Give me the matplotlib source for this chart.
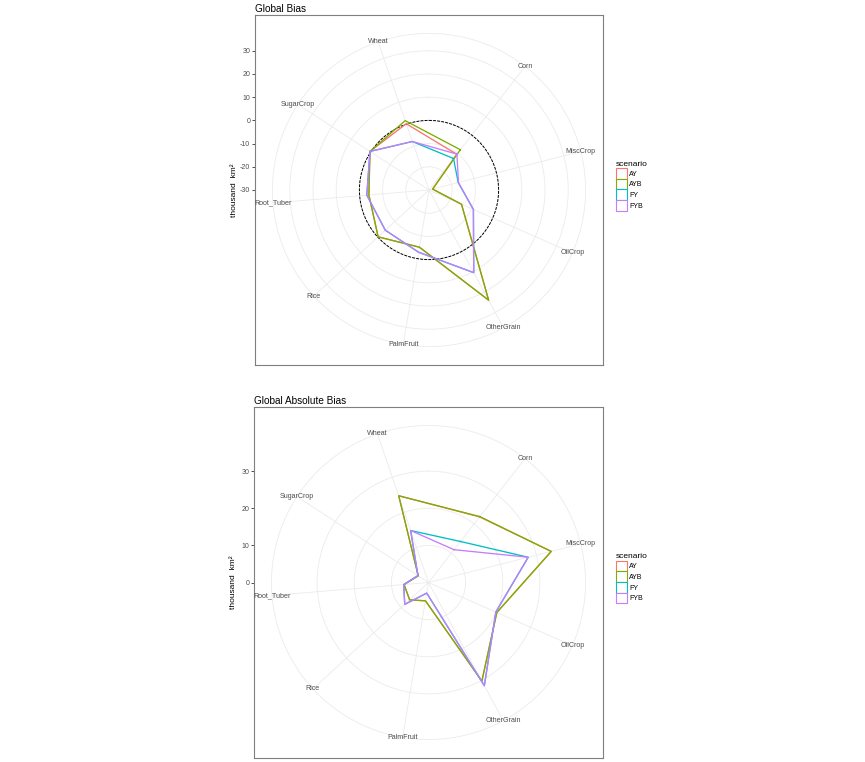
import numpy as np
import matplotlib
matplotlib.use("Agg")
import matplotlib.pyplot as plt
from matplotlib.patches import Patch

plt.rcParams['font.family'] = ['Liberation Sans', 'DejaVu Sans']
plt.rcParams['axes.unicode_minus'] = False

# cultivos en el orden del eje theta
crops = ["Corn", "MiscCrop", "OilCrop", "OtherGrain", "PalmFruit",
         "Rice", "Root_Tuber", "SugarCrop", "Wheat"]
scenarios = ["AY", "AYB", "FY", "FYB"]
colores = ["#F8766D", "#7CAE00", "#00BFC4", "#C77CFF"]

# Global Bias (thousand km2)
bias_AY = [-10.5, -28.4, -14.7, 24.0, -5.0, -0.2, -4.0, 0.4, 0.2]
bias_AYB = [-8.0, -28.4, -14.7, 24.0, -5.0, -0.2, -4.0, 0.4, 1.6]
bias_FY = [-12.8, -17.0, -9.1, 10.5, -2.8, -4.4, -3.1, 0.4, -7.9]
bias_FYB = [-10.4, -16.9, -9.1, 10.5, -2.8, -4.4, -3.1, 0.4, -7.9]

# Global Absolute Bias (thousand km2)
abs_AY = [22.4, 34.1, 20.1, 30.2, 5.0, 6.9, 6.6, 3.3, 24.7]
abs_AYB = [22.5, 34.1, 20.1, 30.2, 5.0, 6.9, 6.6, 3.3, 24.7]
abs_FY = [14.0, 27.7, 19.8, 31.6, 2.9, 8.7, 6.7, 3.4, 14.8]
abs_FYB = [11.2, 27.7, 19.8, 31.6, 2.9, 8.7, 6.7, 3.4, 14.8]

bias_breaks = [-30, -20, -10, 0, 10, 20, 30]
abs_breaks = [0, 10, 20, 30]

FW, FH = 865, 762
fig = plt.figure(figsize=(FW / 100, FH / 100), dpi=100)


def panel(caja, titulo, series, rmin, rmax, breaks, linea_cero):
    L, T, R, B = caja
    W = R - L
    H = B - T
    cx = (L + R) / 2
    cy = (T + B) / 2

    # marco cartesiano: borde, eje y y titulo
    marco = fig.add_axes([L / FW, (FH - B) / FH, W / FW, H / FH])
    ppu = 0.4 * W / (rmax - rmin)
    medio = H / 2 / ppu
    marco.set_ylim(rmin - medio, rmin + medio)
    marco.set_xticks([])
    marco.set_yticks(breaks)
    marco.tick_params(axis='y', length=2, width=0.6, color='#333333',
                      labelsize=5.0, labelcolor='#4D4D4D', pad=1.5)
    for s in marco.spines.values():
        s.set_color('#7F7F7F')
        s.set_linewidth(0.8)
    marco.set_ylabel('thousand  km²', fontsize=6.0)
    marco.yaxis.set_label_coords(-0.05, 0.5)
    marco.set_title(titulo, loc='left', fontsize=7.2, pad=2.5)

    # ejes polares encima
    rad = 0.45 * W
    pol = fig.add_axes([(cx - rad) / FW, (FH - cy - rad) / FH,
                        2 * rad / FW, 2 * rad / FH], projection='polar')
    pol.set_facecolor('none')
    pol.set_theta_zero_location('N')
    pol.set_theta_direction(-1)
    r_ext = rmin + (rmax - rmin) * 1.125
    pol.set_ylim(rmin, r_ext)
    angulos = np.arange(1, len(crops) + 1) / (len(crops) + 0.5) * 2 * np.pi
    pol.set_xticks(angulos)
    pol.set_xticklabels([])
    pol.set_yticks([b for b in breaks if b > rmin])
    pol.set_yticklabels([])
    pol.tick_params(length=0)
    pol.grid(True, color='#EBEBEB', linewidth=0.6)
    pol.spines['polar'].set_color('#EBEBEB')
    pol.spines['polar'].set_linewidth(0.6)
    for a, c in zip(angulos, crops):
        pol.text(a, r_ext, c, ha='center', va='center', fontsize=5.1,
                 color='#4D4D4D')

    if linea_cero:
        th = np.linspace(0, 2 * np.pi, 361)
        pol.plot(th, np.zeros_like(th), color='black', lw=0.7,
                 dashes=(3, 1.2), zorder=2)

    for col, vals in zip(colores, series):
        v = list(vals) + [vals[0]]
        a = list(angulos) + [angulos[0]]
        pol.plot(a, v, color=col, lw=0.95, zorder=3)

    handles = [Patch(facecolor='white', edgecolor=c, linewidth=0.8)
               for c in colores]
    fig.legend(handles, scenarios, loc='upper left',
               bbox_to_anchor=(616 / FW, 1 - (cy - 29) / FH),
               frameon=False, fontsize=5.0, title='scenario',
               title_fontsize=6.0, handlelength=1.6, handleheight=2.0,
               labelspacing=0, handletextpad=0.3, borderpad=0,
               borderaxespad=0, alignment='left')


panel((255, 15, 603, 365), 'Global Bias',
      [bias_AY, bias_AYB, bias_FY, bias_FYB], -30, 30, bias_breaks, True)
panel((254, 407, 603, 758), 'Global Absolute Bias',
      [abs_AY, abs_AYB, abs_FY, abs_FYB], 0, 37.6, abs_breaks, False)

fig.savefig('out.png', dpi=100)
